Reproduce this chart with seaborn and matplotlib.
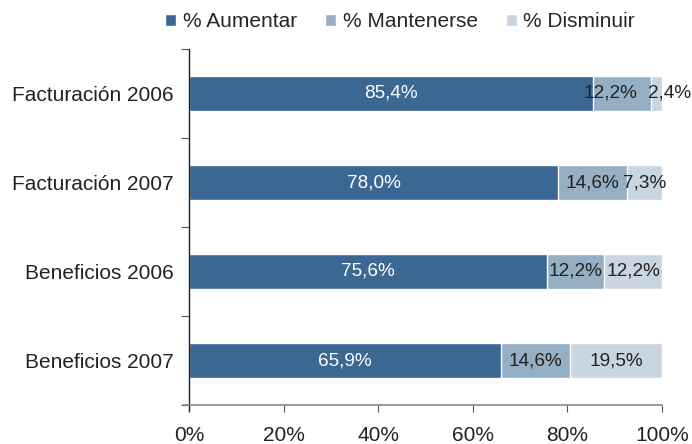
import seaborn as sns
import matplotlib.pyplot as plt
import pandas as pd

categorias = ['Facturación 2006', 'Facturación 2007', 'Beneficios 2006', 'Beneficios 2007']
aumentar = [85.4, 78.0, 75.6, 65.9]
mantenerse = [12.2, 14.6, 12.2, 14.6]
disminuir = [2.4, 7.3, 12.2, 19.5]
series = ['% Aumentar', '% Mantenerse', '% Disminuir']
colores = ['#3a6893', '#95afc5', '#c9d5e0']
xticks = [0, 20, 40, 60, 80, 100]

sns.set_style('white')
plt.rcParams['font.family'] = ['Liberation Sans', 'DejaVu Sans']

df = pd.DataFrame({'cat': categorias, 'a': aumentar, 'm': mantenerse, 'd': disminuir})
df['am'] = df['a'] + df['m']
df['amd'] = df['am'] + df['d']

fig = plt.figure(figsize=(6.92, 4.44), dpi=100)
ax = fig.add_axes([189 / 692, 39 / 444, 473 / 692, 356 / 444])

# barras apiladas: se dibujan los acumulados de mayor a menor
for col, color, lab in [('amd', colores[2], series[2]), ('am', colores[1], series[1]), ('a', colores[0], series[0])]:
    sns.barplot(data=df, x=col, y='cat', color=color, width=0.4, edgecolor='white', saturation=1,
                linewidth=1, label=lab, ax=ax, orient='h')

# etiquetas de valores
fs = 13.7
for i in range(len(categorias)):
    a, m, d = aumentar[i], mantenerse[i], disminuir[i]
    txt = lambda v: f'{v:.1f}%'.replace('.', ',')
    ax.text(a / 2, i, txt(a), ha='center', va='center', color='white', fontsize=fs)
    if d < 5:
        # segmento final muy estrecho: el texto se sale por la derecha
        ax.text(a + m / 2 - 2.5, i, txt(m), ha='center', va='center', color='#222222', fontsize=fs)
        ax.text(a + m - 0.6, i, txt(d), ha='left', va='center', color='#222222', fontsize=fs)
    else:
        ax.text(a + m / 2, i, txt(m), ha='center', va='center', color='#222222', fontsize=fs)
        ax.text(a + m + d / 2, i, txt(d), ha='center', va='center', color='#222222', fontsize=fs)

ax.set_xlim(0, 100)
ax.set_ylim(3.5, -0.5)
ax.set_xticks(xticks)
ax.set_xticklabels([f'{t}%' for t in xticks])
ax.set_xlabel('')
ax.set_ylabel('')
ax.set_yticks(range(len(categorias)))
ax.set_yticklabels(categorias)
ax.set_yticks([-0.5, 0.5, 1.5, 2.5, 3.5], minor=True)
ax.tick_params(axis='y', which='major', length=0, pad=11, labelsize=15, labelcolor='#222222')
ax.tick_params(axis='y', which='minor', left=True, length=6, width=0.8, color='#555555', direction='out')
ax.tick_params(axis='x', length=5, width=0.8, color='#555555', direction='out', pad=10,
               labelsize=15, labelcolor='#222222', bottom=True)

for s in ['top', 'right']:
    ax.spines[s].set_visible(False)
ax.spines['left'].set_color('#222222')
ax.spines['left'].set_linewidth(1)
ax.spines['bottom'].set_color('#888888')
ax.spines['bottom'].set_linewidth(1.2)
ax.spines['bottom'].set_bounds(-1.3, 100)
ax.spines['left'].set_bounds(3.57, -0.5)

handles, labels = ax.get_legend_handles_labels()
orden = [labels.index(s) for s in series]
ax.legend([handles[k] for k in orden], series, loc='center', bbox_to_anchor=(0.446, 1.076),
          ncol=3, frameon=False, fontsize=15, handlelength=0.55, handleheight=0.55,
          handletextpad=0.3, columnspacing=1.35, borderaxespad=0, borderpad=0)

fig.savefig('out.png', dpi=100)
